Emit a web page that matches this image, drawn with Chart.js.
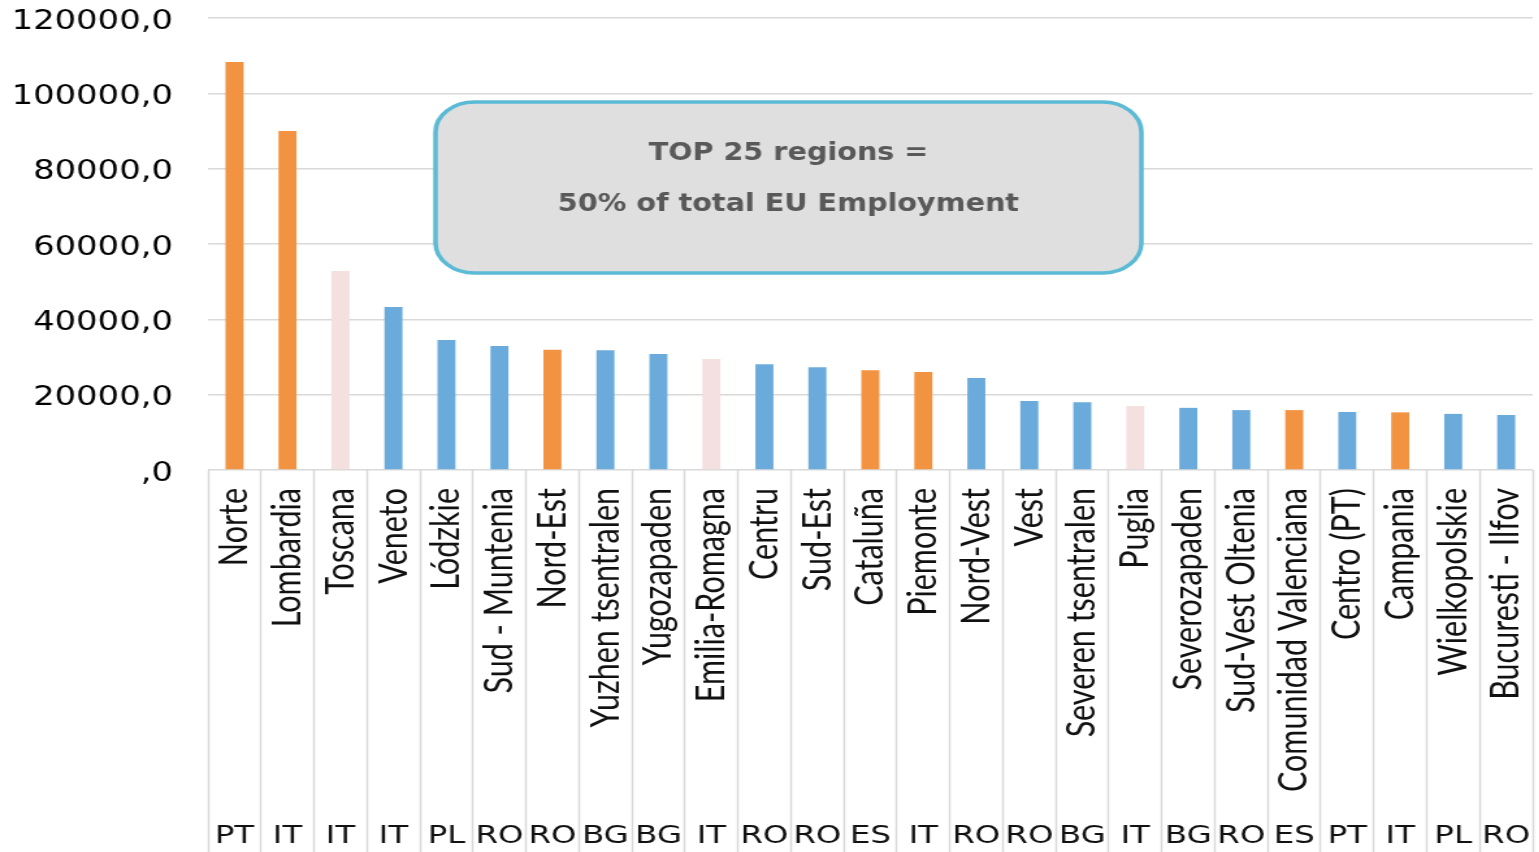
<!DOCTYPE html>
<html>
<head>
<meta charset="utf-8">
<title>Top 25 regions - employment</title>
<script src="https://cdn.jsdelivr.net/npm/chart.js@4.4.1/dist/chart.umd.min.js"></script>
<style>
    html, body { margin: 0; padding: 0; background: #fff; overflow: hidden; }
    /* the reference picture is stretched sideways, so the chart is drawn narrow and widened */
    #wrap {
        position: absolute; left: 0; top: 0;
        width: 1184px; height: 852px;
        transform: scaleX(1.3); transform-origin: 0 0;
    }
</style>
</head>
<body>
<div id="wrap"><canvas id="employmentChart"></canvas></div>
<script>
// ======================================
// DATA
// ======================================
const regions = [
    'Norte', 'Lombardia', 'Toscana', 'Veneto', 'Lódzkie', 'Sud - Muntenia', 'Nord-Est',
    'Yuzhen tsentralen', 'Yugozapaden', 'Emilia-Romagna', 'Centru', 'Sud-Est', 'Cataluña',
    'Piemonte', 'Nord-Vest', 'Vest', 'Severen tsentralen', 'Puglia', 'Severozapaden',
    'Sud-Vest Oltenia', 'Comunidad Valenciana', 'Centro (PT)', 'Campania', 'Wielkopolskie',
    'Bucuresti - Ilfov'
];
const countries = [
    'PT', 'IT', 'IT', 'IT', 'PL', 'RO', 'RO', 'BG', 'BG', 'IT', 'RO', 'RO', 'ES',
    'IT', 'RO', 'RO', 'BG', 'IT', 'BG', 'RO', 'ES', 'PT', 'IT', 'PL', 'RO'
];
const employment = [
    108300, 90000, 52800, 43300, 34500, 32900, 31900, 31800, 30800, 29500, 28100, 27300,
    26500, 26000, 24400, 18300, 18000, 17000, 16500, 15900, 15900, 15400, 15300, 14900, 14600
];
// o = orange, p = pale pink, b = blue
const barGroups = [
    'o', 'o', 'p', 'b', 'b', 'b', 'o', 'b', 'b', 'p', 'b', 'b', 'o',
    'o', 'b', 'b', 'b', 'p', 'b', 'b', 'o', 'b', 'o', 'b', 'b'
];
const yTicks = [0, 20000, 40000, 60000, 80000, 100000, 120000];
const boxLines = ['TOP 25 regions =', '50% of total EU Employment'];

const GROUP_COLORS = { o: '#F29341', p: '#F3E0DF', b: '#6BABDB' };
const GRID_COLOR = '#D9D9D9';

function formatTick(value) {
    // 120000 -> "120000,0", 0 -> ",0"
    return (value === 0 ? '' : String(value)) + ',0';
}

// ======================================
// PLUGINS
// ======================================

// region names (rotated) and country codes under each bar
const categoryLabels = {
    id: 'categoryLabels',
    afterDraw(chart) {
        const { ctx, chartArea } = chart;
        const x = chart.scales.x;
        ctx.save();
        ctx.fillStyle = '#111';
        regions.forEach((name, i) => {
            const px = x.getPixelForValue(i);
            ctx.save();
            ctx.translate(px, chartArea.bottom + 18);
            ctx.rotate(-Math.PI / 2);
            ctx.textAlign = 'right';
            ctx.textBaseline = 'middle';
            ctx.font = '30.5px Lato, "Open Sans", sans-serif';
            ctx.fillText(name, 0, 0);
            ctx.restore();

            ctx.textAlign = 'center';
            ctx.textBaseline = 'alphabetic';
            ctx.font = '25px "DejaVu Sans", sans-serif';
            ctx.fillText(countries[i], px, 843);
        });
        ctx.restore();
    }
};

// the rounded note box in the middle of the plot
const noteBox = {
    id: 'noteBox',
    afterDatasetsDraw(chart) {
        const { ctx } = chart;
        const left = 335, top = 102, right = 878, bottom = 273;
        ctx.save();
        ctx.beginPath();
        ctx.roundRect(left, top, right - left, bottom - top, 30);
        ctx.fillStyle = '#DFDFDF';
        ctx.fill();
        ctx.lineWidth = 3.5;
        ctx.strokeStyle = '#5BBAD5';
        ctx.stroke();

        ctx.fillStyle = '#595959';
        ctx.textAlign = 'center';
        ctx.textBaseline = 'middle';
        ctx.font = 'bold 24.5px "DejaVu Sans Condensed", "DejaVu Sans", sans-serif';
        const cx = (left + right) / 2;
        ctx.fillText(boxLines[0], cx, 154);
        ctx.fillText(boxLines[1], cx, 205);
        ctx.restore();
    }
};

// ======================================
// CHART
// ======================================
document.addEventListener('DOMContentLoaded', function() {
    const ctx = document.getElementById('employmentChart').getContext('2d');

    new Chart(ctx, {
        type: 'bar',
        data: {
            labels: regions,
            datasets: [{
                label: 'Employment',
                data: employment,
                backgroundColor: barGroups.map(g => GROUP_COLORS[g]),
                borderWidth: 0,
                categoryPercentage: 1.0,
                barPercentage: 0.34
            }]
        },
        options: {
            responsive: true,
            maintainAspectRatio: false,
            animation: false,
            layout: { padding: { top: 0, right: 5, left: 0, bottom: 0 } },
            plugins: {
                legend: { display: false },
                title: { display: false },
                tooltip: { enabled: false }
            },
            scales: {
                x: {
                    ticks: { display: false },
                    border: { display: false },
                    grid: {
                        offset: true,
                        drawOnChartArea: false,
                        drawTicks: true,
                        tickLength: 382,
                        tickWidth: 1.5,
                        tickColor: GRID_COLOR
                    }
                },
                y: {
                    min: 0,
                    max: 120000,
                    afterBuildTicks: scale => {
                        scale.ticks = yTicks.map(v => ({ value: v }));
                    },
                    afterFit: scale => {
                        scale.width = 160;
                        // tick padding is meant sideways only; keep the top edge at y=18
                        scale.paddingTop = 18;
                        scale.paddingBottom = 0;
                    },
                    border: { display: false },
                    grid: {
                        color: GRID_COLOR,
                        lineWidth: 1.5,
                        drawTicks: false
                    },
                    ticks: {
                        padding: 27,
                        labelOffset: 4,
                        color: '#000',
                        font: { family: '"DejaVu Sans", sans-serif', size: 26 },
                        callback: value => formatTick(value)
                    }
                }
            }
        },
        plugins: [categoryLabels, noteBox]
    });
});
</script>
</body>
</html>
